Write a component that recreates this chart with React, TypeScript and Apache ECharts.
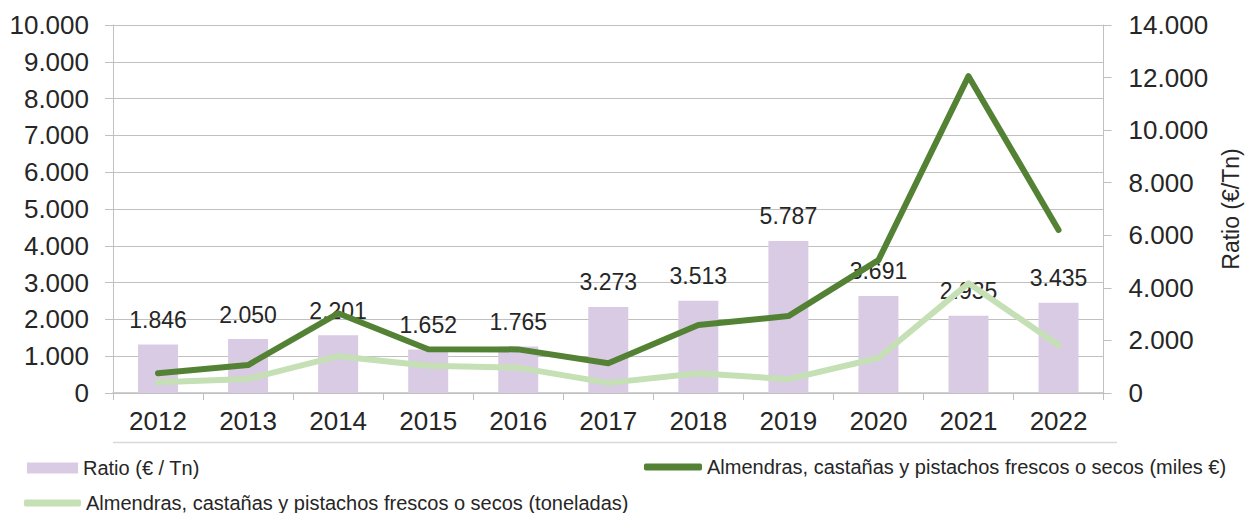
import React, { useEffect, useRef } from "react";
import * as echarts from "echarts";

const years = ["2012", "2013", "2014", "2015", "2016", "2017", "2018", "2019", "2020", "2021", "2022"];
const ratioValues = [1846, 2050, 2201, 1652, 1765, 3273, 3513, 5787, 3691, 2935, 3435];
const milesEuro = [535, 760, 2165, 1190, 1185, 810, 1850, 2090, 3610, 8610, 4430];
const toneladas = [290, 380, 1000, 740, 690, 275, 535, 375, 950, 2980, 1300];

const nameRatio = "Ratio (€ / Tn)";
const nameMiles = "Almendras, castañas y pistachos frescos o secos (miles €)";
const nameTon = "Almendras, castañas y pistachos frescos o secos (toneladas)";

const fmt = (v: number) => String(Math.round(v)).replace(/\B(?=(\d{3})+(?!\d))/g, ".");

export default function App() {
  const ref = useRef<HTMLDivElement>(null);
  useEffect(() => {
    if (!ref.current) return;
    document.body.style.margin = "0";
    document.body.style.overflow = "hidden";
    document.documentElement.style.overflow = "hidden";
    const chart = echarts.init(ref.current, undefined, { renderer: "svg", width: 1250, height: 513 });
    const font = "Liberation Sans, Arial, sans-serif";
    const textColor = "#262626";
    const gridColor = "#c0c0c0";
    chart.setOption({
      animation: false,
      textStyle: { fontFamily: font },
      grid: { left: 113, right: 133, top: 25, bottom: 120, containLabel: false },
      legend: [
        {
          data: [nameRatio],
          left: 22,
          top: 453,
          itemWidth: 51,
          itemHeight: 11,
          icon: "rect",
          textStyle: { fontSize: 20, color: textColor, fontFamily: font },
        },
        {
          data: [{ name: nameMiles, icon: "roundRect" }],
          left: 639,
          top: 452,
          itemWidth: 58,
          itemHeight: 7,
          textStyle: { fontSize: 20, color: textColor, fontFamily: font },
        },
        {
          data: [{ name: nameTon, icon: "roundRect" }],
          left: 19,
          top: 488,
          itemWidth: 57,
          itemHeight: 7,
          textStyle: { fontSize: 20, color: textColor, fontFamily: font },
        },
      ],
      xAxis: {
        type: "category",
        data: years,
        boundaryGap: true,
        axisLine: { show: true, lineStyle: { color: gridColor, width: 1.5 } },
        axisTick: { show: true, length: 7, alignWithLabel: false, lineStyle: { color: gridColor } },
        axisLabel: { fontSize: 26, color: textColor, margin: 15, fontFamily: font },
      },
      yAxis: [
        {
          type: "value",
          min: 0,
          max: 10000,
          interval: 1000,
          axisLine: { show: true, lineStyle: { color: gridColor } },
          axisTick: { show: true, length: 8, lineStyle: { color: gridColor } },
          splitLine: { show: true, lineStyle: { color: gridColor } },
          axisLabel: { fontSize: 26, color: textColor, margin: 24, formatter: (v: number) => fmt(v), fontFamily: font },
        },
        {
          type: "value",
          min: 0,
          max: 14000,
          interval: 2000,
          position: "right",
          name: "Ratio (€/Tn)",
          nameLocation: "middle",
          nameRotate: 90,
          nameGap: 105,
          nameTextStyle: { fontSize: 23, color: textColor, fontFamily: font },
          axisLine: { show: true, lineStyle: { color: gridColor } },
          axisTick: { show: true, length: 8, lineStyle: { color: gridColor } },
          splitLine: { show: false },
          axisLabel: { fontSize: 26, color: textColor, margin: 25, formatter: (v: number) => fmt(v), fontFamily: font },
        },
      ],
      graphic: [
        {
          type: "line",
          shape: { x1: 113, y1: 442.5, x2: 1117, y2: 442.5 },
          style: { stroke: "#d9d9d9", lineWidth: 1.5 },
          silent: true,
        },
      ],
      series: [
        {
          name: nameRatio,
          type: "bar",
          yAxisIndex: 1,
          data: ratioValues,
          barWidth: 40,
          z: 1,
          itemStyle: { color: "#dacbe5" },
          label: {
            show: true,
            position: "top",
            distance: 13,
            fontSize: 23,
            color: textColor,
            fontFamily: font,
            formatter: (p: any) => fmt(p.value),
          },
        },
        {
          name: nameMiles,
          type: "line",
          yAxisIndex: 0,
          data: milesEuro,
          showSymbol: false,
          symbol: "none",
          z: 4,
          itemStyle: { color: "#548235" },
          lineStyle: { color: "#548235", width: 6, cap: "round", join: "round" },
        },
        {
          name: nameTon,
          type: "line",
          yAxisIndex: 0,
          data: toneladas,
          showSymbol: false,
          symbol: "none",
          z: 3,
          itemStyle: { color: "#c5e0b4" },
          lineStyle: { color: "#c5e0b4", width: 6, cap: "round", join: "round" },
        },
      ],
    });
    return () => chart.dispose();
  }, []);
  return <div ref={ref} style={{ width: 1250, height: 513, position: "absolute", left: 0, top: 0 }} />;
}
